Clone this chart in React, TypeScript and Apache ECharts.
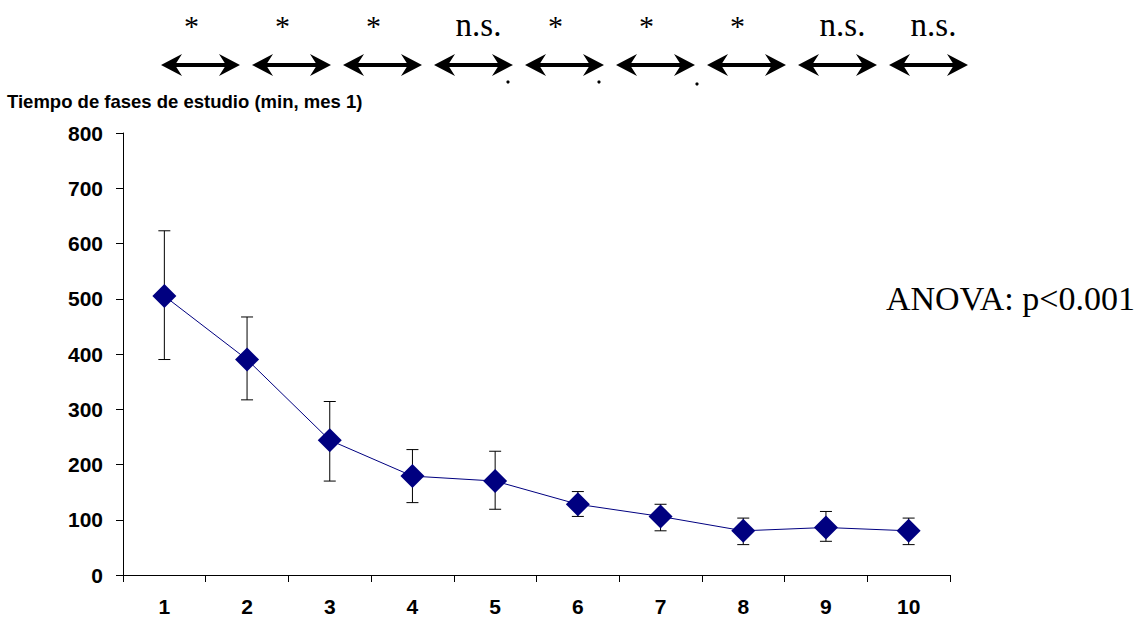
import React, { useEffect, useRef } from "react";
import * as echarts from "echarts";

const categories = ["1", "2", "3", "4", "5", "6", "7", "8", "9", "10"];
const means = [505, 390, 244, 179, 170, 128, 106, 80, 86, 80];
const upper = [623, 467, 314, 227, 224, 151, 128, 103, 115, 103];
const lower = [390, 317, 170, 131, 119, 106, 80, 55, 61, 55];
const yTicks = [0, 100, 200, 300, 400, 500, 600, 700, 800];
const comparisons = ["*", "*", "*", "n.s.", "*", "*", "*", "n.s.", "n.s."];
const titleText = "Tiempo de fases de estudio (min, mes 1)";
const anovaText = "ANOVA: p<0.001";

const SERIF = "'Liberation Serif', 'Times New Roman', serif";
const SANS = "'Liberation Sans', Arial, sans-serif";

function buildGraphics() {
  const els: any[] = [];
  const arrowY = 65;
  const start = 161;
  const step = 91;
  const len = 79;
  comparisons.forEach((lab, i) => {
    const x0 = start + i * step;
    const x1 = x0 + len;
    const cx = (x0 + x1) / 2;
    els.push({
      type: "line",
      shape: { x1: x0 + 10, y1: arrowY, x2: x1 - 10, y2: arrowY },
      style: { stroke: "#000", lineWidth: 4 },
    });
    els.push({
      type: "polygon",
      shape: {
        points: [
          [x0, arrowY],
          [x0 + 21, arrowY - 11],
          [x0 + 14, arrowY],
          [x0 + 21, arrowY + 11],
        ],
      },
      style: { fill: "#000" },
    });
    els.push({
      type: "polygon",
      shape: {
        points: [
          [x1, arrowY],
          [x1 - 21, arrowY - 11],
          [x1 - 14, arrowY],
          [x1 - 21, arrowY + 11],
        ],
      },
      style: { fill: "#000" },
    });
    const isStar = lab === "*";
    els.push({
      type: "text",
      x: cx + (isStar ? -9 : 5),
      y: isStar ? 40 : 41,
      style: {
        text: lab,
        font: `${isStar ? 30 : 33}px ${SERIF}`,
        fill: "#000",
        align: "center",
        verticalAlign: "bottom",
      },
    });
  });
  [
    [508, 82],
    [599, 82],
    [697, 84],
  ].forEach(([cx, cy]) =>
    els.push({ type: "circle", shape: { cx, cy, r: 1.6 }, style: { fill: "#000" } })
  );
  els.push({
    type: "text",
    x: 7,
    y: 101,
    style: {
      text: titleText,
      font: `bold 18.5px ${SANS}`,
      fill: "#000",
      align: "left",
      verticalAlign: "middle",
    },
  });
  els.push({
    type: "text",
    x: 1135,
    y: 298,
    style: {
      text: anovaText,
      font: `34px ${SERIF}`,
      fill: "#000",
      align: "right",
      verticalAlign: "middle",
    },
  });
  return els;
}

export default function App() {
  const ref = useRef<HTMLDivElement>(null);
  useEffect(() => {
    if (!ref.current) return;
    const chart = echarts.init(ref.current, null, { renderer: "svg" });
    const errData = categories.map((c, i) => [i, lower[i], upper[i]]);
    chart.setOption({
      animation: false,
      backgroundColor: "#fff",
      grid: { left: 123, top: 133, width: 827, height: 442, outerBoundsMode: "none", containLabel: false },
      xAxis: {
        type: "category",
        data: categories,
        boundaryGap: true,
        axisLine: { lineStyle: { color: "#000", width: 1 } },
        axisTick: { show: true, length: 7, inside: false, alignWithLabel: false, lineStyle: { color: "#000" } },
        axisLabel: { margin: 21, fontFamily: SANS, fontWeight: "bold", fontSize: 21, lineHeight: 21, color: "#000" },
        splitLine: { show: false },
      },
      yAxis: {
        type: "value",
        min: 0,
        max: 800,
        interval: 100,
        axisLine: { show: true, lineStyle: { color: "#000", width: 1 } },
        axisTick: { show: true, length: 7, lineStyle: { color: "#000" } },
        axisLabel: {
          margin: 20,
          fontFamily: SANS,
          fontWeight: "bold",
          fontSize: 21,
          color: "#000",
          formatter: (v: number) => (yTicks.includes(v) ? String(v) : ""),
        },
        splitLine: { show: false },
      },
      graphic: buildGraphics(),
      series: [
        {
          type: "custom",
          z: 1,
          data: errData,
          renderItem: (params: any, api: any) => {
            const x = api.value(0);
            const lo = api.coord([x, api.value(1)]);
            const hi = api.coord([x, api.value(2)]);
            const hw = 6;
            const st = { stroke: "#000", lineWidth: 1 };
            return {
              type: "group",
              children: [
                { type: "line", shape: { x1: hi[0], y1: hi[1], x2: lo[0], y2: lo[1] }, style: st },
                { type: "line", shape: { x1: hi[0] - hw, y1: hi[1], x2: hi[0] + hw, y2: hi[1] }, style: st },
                { type: "line", shape: { x1: lo[0] - hw, y1: lo[1], x2: lo[0] + hw, y2: lo[1] }, style: st },
              ],
            };
          },
        },
        {
          type: "line",
          z: 3,
          data: means,
          symbol: "diamond",
          symbolSize: [24, 24],
          itemStyle: { color: "#000080" },
          lineStyle: { color: "#000080", width: 1 },
        },
      ],
    });
    return () => chart.dispose();
  }, []);
  return <div ref={ref} style={{ position: "fixed", left: 0, top: 0, width: 1139, height: 619 }} />;
}
